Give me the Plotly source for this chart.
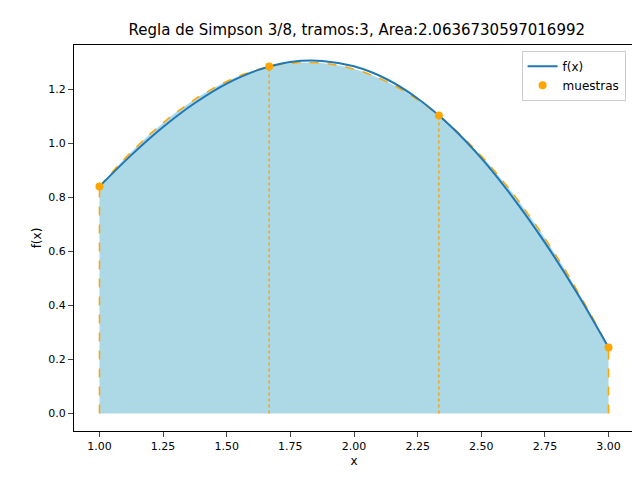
import numpy as np
import plotly.graph_objects as go

x_curve = [1.0,1.125,1.25,1.375,1.5,1.625,1.75,1.875,2.0,2.125,2.25,2.375,2.5,2.625,2.75,2.875,3.0]
y_curve = [0.841,0.957,1.061,1.150,1.222,1.273,1.302,1.306,1.286,1.240,1.167,1.069,0.946,0.799,0.633,0.448,0.244]
x_samp = [1.0,1.6667,2.3333,3.0]
y_samp = [0.841,1.285,1.104,0.244]
title = "Regla de Simpson 3/8, tramos:3, Area:2.0636730597016992"

coef = np.polyfit(x_samp, y_samp, 3)
xp = np.linspace(x_samp[0], x_samp[-1], 101)
yp = np.polyval(coef, xp)

fig = go.Figure()
fig.add_trace(go.Scatter(x=xp, y=yp, fill='tozeroy', fillcolor='lightblue',
    line=dict(color='orange', dash='dash', width=1.5), showlegend=False, hoverinfo='skip'))
for i, (xs, ys) in enumerate(zip(x_samp, y_samp)):
    end = i in (0, len(x_samp)-1)
    fig.add_trace(go.Scatter(x=[xs, xs], y=[0, ys], mode='lines',
        line=dict(color='orange', dash='dash' if end else 'dot', width=1.5), showlegend=False))
fig.add_trace(go.Scatter(x=x_curve, y=y_curve, mode='lines', name='f(x)',
    line=dict(color='#1f77b4', width=2, shape='spline')))
fig.add_trace(go.Scatter(x=x_samp, y=y_samp, mode='markers', name='muestras',
    marker=dict(color='orange', size=8)))

ax = dict(showline=True, linecolor='black', mirror=True, ticks='outside', showgrid=False,
          zeroline=False, tickfont=dict(size=11), automargin=False)
fig.update_layout(
    width=640, height=480, template=None, plot_bgcolor='white', paper_bgcolor='white',
    font=dict(family='DejaVu Sans', color='black', size=12),
    title=dict(text=title, x=0.545, xanchor='center', y=0.965, font=dict(size=15)),
    margin=dict(l=66, r=14, t=37, b=57, autoexpand=False),
    xaxis=dict(ax, range=[0.9, 3.1], tickvals=[1,1.25,1.5,1.75,2,2.25,2.5,2.75,3],
               ticktext=['1.00','1.25','1.50','1.75','2.00','2.25','2.50','2.75','3.00'],
               title=dict(text='x', standoff=4, font=dict(size=12))),
    yaxis=dict(ax, range=[-0.065, 1.365], tickvals=[0,0.2,0.4,0.6,0.8,1.0,1.2],
               ticktext=['0.0','0.2','0.4','0.6','0.8','1.0','1.2'],
               title=dict(text='f(x)', standoff=4, font=dict(size=12))),
    legend=dict(x=0.985, y=0.985, xanchor='right', yanchor='top', bordercolor='#cccccc',
                borderwidth=1, bgcolor='white'),
)
fig.write_html("out.html")
